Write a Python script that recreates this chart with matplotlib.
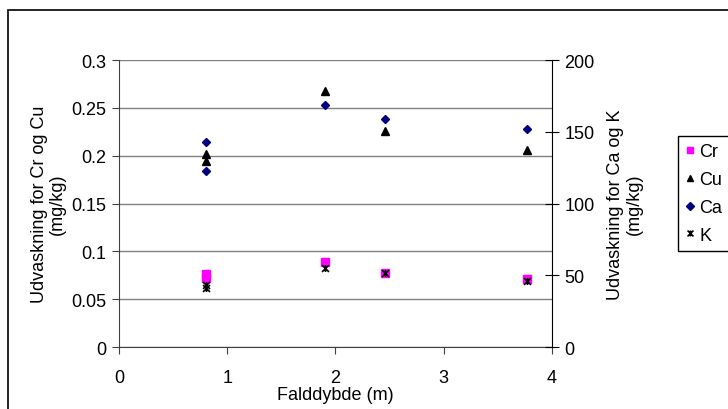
import matplotlib.pyplot as plt
import matplotlib.patches as patches
from matplotlib.path import Path

plt.rcParams['font.family'] = ['Liberation Sans', 'DejaVu Sans']
plt.rcParams['font.size'] = 13

# data
depth = [0.8, 0.8, 1.9, 2.46, 3.77]
cr = [0.076, 0.072, 0.089, 0.077, 0.071]
cu = [0.202, 0.194, 0.268, 0.226, 0.206]
ca = [143, 123, 169, 159, 152]
k = [43, 41, 55, 51.5, 46]

# Excel-style star marker: an x with a vertical bar
star = Path([(-1, -1), (1, 1), (-1, 1), (1, -1), (0, -1), (0, 1)],
            [Path.MOVETO, Path.LINETO, Path.MOVETO, Path.LINETO, Path.MOVETO, Path.LINETO])

fig = plt.figure(figsize=(7.28, 4.10), dpi=100)
ax = fig.add_axes([0.1635, 0.151, 0.5945, 0.700])
ax2 = ax.twinx()

# outer chart frame
fig.patches.append(patches.Rectangle((0.011, -0.1), 1.2, 1.073, transform=fig.transFigure,
                                     fill=False, edgecolor='black', linewidth=1.2))

h1, = ax.plot(depth, cr, ls='none', marker='s', color='#FF00FF', markersize=5.5, label='Cr')
h2, = ax.plot(depth, cu, ls='none', marker='^', color='black', markersize=5.5, label='Cu')
h3, = ax2.plot(depth, ca, ls='none', marker='D', color='#000080', markersize=4.5, label='Ca')
h4, = ax2.plot(depth, k, ls='none', marker=star, color='black', markersize=5, mew=1.2, label='K')

ax.set_xlim(0, 4)
ax.set_ylim(0, 0.3)
ax2.set_ylim(0, 200)
ax.set_xticks([0, 1, 2, 3, 4])
ax.set_xticklabels(['0', '1', '2', '3', '4'])
ax.set_yticks([0, 0.05, 0.1, 0.15, 0.2, 0.25, 0.3])
ax.set_yticklabels(['0', '0.05', '0.1', '0.15', '0.2', '0.25', '0.3'])
ax2.set_yticks([0, 50, 100, 150, 200])

ax.grid(axis='y', color='#808080', linewidth=1)
ax.set_axisbelow(True)
for a in (ax, ax2):
    for s in a.spines.values():
        s.set_visible(False)
ax.spines['left'].set_visible(True)
ax.spines['left'].set_color('#404040')
ax.spines['bottom'].set_visible(True)
ax.spines['bottom'].set_color('#404040')
ax2.spines['right'].set_visible(True)
ax2.spines['right'].set_color('black')

ax.tick_params(axis='y', direction='out', length=5, color='#404040', pad=4)
ax.tick_params(axis='x', direction='out', length=5, color='#404040', pad=11)
ax2.tick_params(axis='y', direction='inout', length=10, color='black', pad=4)

ax.set_xlabel('Falddybde (m)', labelpad=0)
ax.set_ylabel('Udvaskning for Cr og Cu\n(mg/kg)', labelpad=4, linespacing=1.1)
ax2.set_ylabel('Udvaskning for Ca og K\n(mg/kg)', labelpad=9, linespacing=1.15)

fig.legend(handles=[h1, h2, h3, h4], loc='upper left', bbox_to_anchor=(0.931, 0.666),
           frameon=True, fancybox=False, edgecolor='black', framealpha=1,
           handlelength=0.5, handletextpad=0.3, borderpad=0.4, labelspacing=0.6,
           borderaxespad=0, markerscale=0.85)

fig.savefig('out.png', dpi=100)
